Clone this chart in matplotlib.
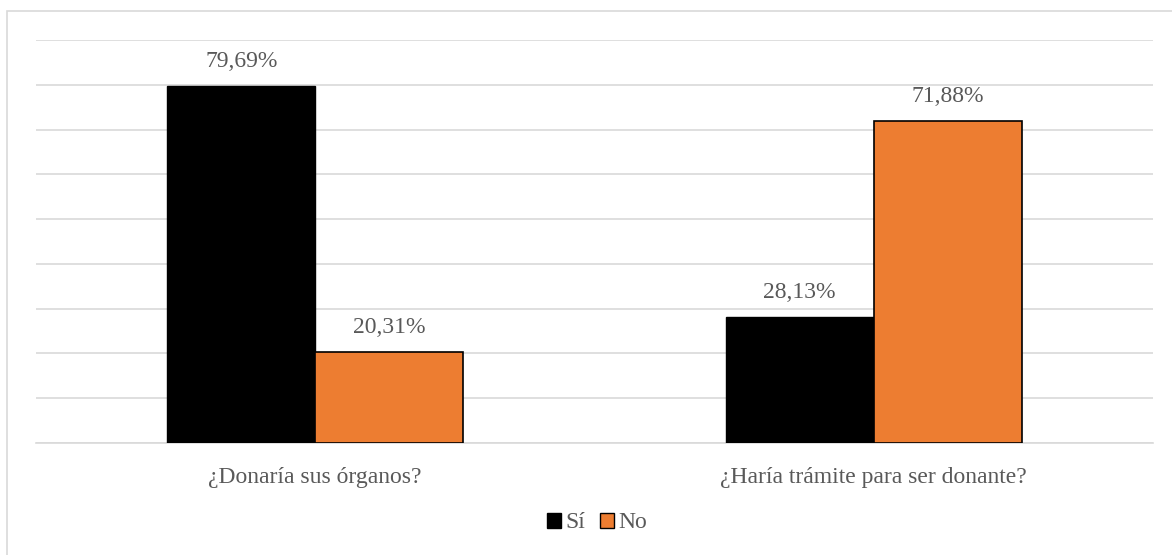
import matplotlib
matplotlib.use("Agg")
from matplotlib import pyplot as plt
from matplotlib.patches import Patch, Rectangle
import numpy as np

plt.rcParams['font.family'] = ['Liberation Serif', 'DejaVu Serif']

categories = ["¿Donaría sus órganos?", "¿Haría trámite para ser donante?"]
series_names = ["Sí", "No"]
si_values = [79.69, 28.13]
no_values = [20.31, 71.88]
value_labels_si = ["79,69%", "28,13%"]
value_labels_no = ["20,31%", "71,88%"]

black = "#000000"
orange = "#ED7D31"
grid_col = "#D9D9D9"
text_col = "#595959"

fig = plt.figure(figsize=(11.72, 5.55), dpi=100)
ax = fig.add_axes([36 / 1172, 1 - 443 / 555, (1153 - 36) / 1172, (443 - 40) / 555])

# outer chart frame (runs off the right/bottom of the image)
fig.patches.append(Rectangle((6.5 / 1172, -0.1), 1.2, 1 - 11 / 555 + 0.1,
                             transform=fig.transFigure, fill=False,
                             edgecolor=grid_col, linewidth=1.2))

x = np.arange(len(categories))
w = 0.265
b1 = ax.bar(x - w / 2, si_values, w, color=black, edgecolor=black, linewidth=1, zorder=3)
b2 = ax.bar(x + w / 2, no_values, w, color=orange, edgecolor=black, linewidth=1.2, zorder=3)

for bars, labels in ((b1, value_labels_si), (b2, value_labels_no)):
    for bar, lab in zip(bars, labels):
        ax.text(bar.get_x() + bar.get_width() / 2, bar.get_height() + 3.2, lab,
                ha="center", va="bottom", fontsize=17, color=text_col)

ax.set_xlim(-0.5, 1.5)
ax.set_ylim(0, 90)
ax.set_yticks(np.arange(0, 91, 10))
ax.yaxis.grid(True, color=grid_col, linewidth=1.2, zorder=0)
ax.set_yticklabels([])
ax.tick_params(axis="both", length=0)
ax.set_xticks(x)
ax.set_xticklabels(categories, fontsize=17, color=text_col)
ax.tick_params(axis="x", pad=17)
for s in ("top", "right", "left"):
    ax.spines[s].set_visible(False)
ax.spines["bottom"].set_color(grid_col)
ax.spines["bottom"].set_linewidth(1.2)

handles = [Patch(facecolor=black, edgecolor=black), Patch(facecolor=orange, edgecolor=black)]
fig.legend(handles, series_names, loc="center", bbox_to_anchor=(597 / 1172, 1 - 523 / 555),
           ncol=2, frameon=False, fontsize=17, labelcolor=text_col,
           handlelength=0.6, handleheight=0.6, handletextpad=0.2, columnspacing=0.6)

fig.savefig("out.png", dpi=100)
